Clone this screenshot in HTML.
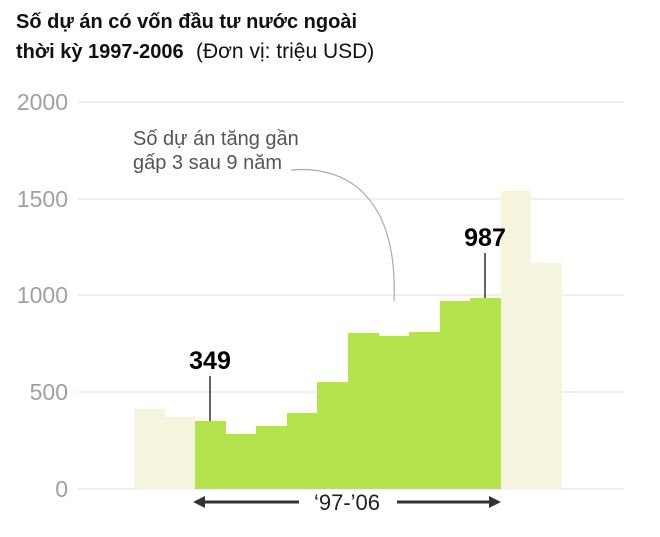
<!DOCTYPE html>
<html><head><meta charset="utf-8"><style>
body{margin:0;background:#fff;width:660px;height:532px;overflow:hidden;font-family:"Liberation Sans",sans-serif}
</style></head><body>
<svg width="660" height="532" xmlns="http://www.w3.org/2000/svg" font-family="Liberation Sans, sans-serif">
<text x="16" y="28" font-size="20" font-weight="bold" fill="#111">Số dự án có vốn đầu tư nước ngoài</text>
<text x="16" y="58" font-size="20" font-weight="bold" fill="#111">thời kỳ 1997-2006</text>
<text x="196" y="58" font-size="21" fill="#111">(Đơn vị: triệu USD)</text>
<g stroke="#e6e6e6" stroke-width="1.2">
<line x1="78" x2="624" y1="102" y2="102"/><line x1="78" x2="624" y1="199" y2="199"/>
<line x1="78" x2="624" y1="295" y2="295"/><line x1="78" x2="624" y1="392" y2="392"/>
<line x1="78" x2="624" y1="489" y2="489"/></g>
<g font-size="23" fill="#a0a0a0" text-anchor="end">
<text x="68" y="110">2000</text><text x="68" y="207">1500</text><text x="68" y="303">1000</text>
<text x="68" y="400">500</text><text x="68" y="497">0</text></g>
<g fill="#f5f5df">
<rect x="134" y="409" width="31" height="80"/><rect x="165" y="417" width="30" height="72"/>
<rect x="501" y="191" width="30" height="298"/><rect x="531" y="263" width="31" height="226"/></g>
<g fill="#b5e34e">
<rect x="195" y="421" width="31" height="68"/><rect x="226" y="434" width="30" height="55"/>
<rect x="256" y="426" width="31" height="63"/><rect x="287" y="413" width="30" height="76"/>
<rect x="317" y="382" width="31" height="107"/><rect x="348" y="333" width="31" height="156"/>
<rect x="379" y="336" width="30" height="153"/><rect x="409" y="332" width="31" height="157"/>
<rect x="440" y="301" width="30" height="188"/><rect x="470" y="298" width="31" height="191"/></g>
<g stroke="#111" stroke-width="1.3"><line x1="210" y1="376" x2="210" y2="421"/><line x1="485" y1="253" x2="485" y2="298"/></g>
<text x="210" y="369" font-size="25" font-weight="bold" text-anchor="middle" fill="#000">349</text>
<text x="485" y="246" font-size="25" font-weight="bold" text-anchor="middle" fill="#000">987</text>
<text x="133" y="145" font-size="20" fill="#555">Số dự án tăng gần</text>
<text x="133" y="169" font-size="20" fill="#555">gấp 3 sau 9 năm</text>
<path d="M291 170 C 350 165, 398 200, 394 301" fill="none" stroke="#aaa" stroke-width="1.2"/>
<g stroke="#333" stroke-width="3"><line x1="200" y1="502" x2="299" y2="502"/><line x1="397" y1="502" x2="492" y2="502"/></g>
<polygon points="193,502 205,496 205,508" fill="#333"/>
<polygon points="501,502 489,496 489,508" fill="#333"/>
<text x="347" y="510" font-size="22" text-anchor="middle" fill="#222">‘97-’06</text>
</svg>
</body></html>
